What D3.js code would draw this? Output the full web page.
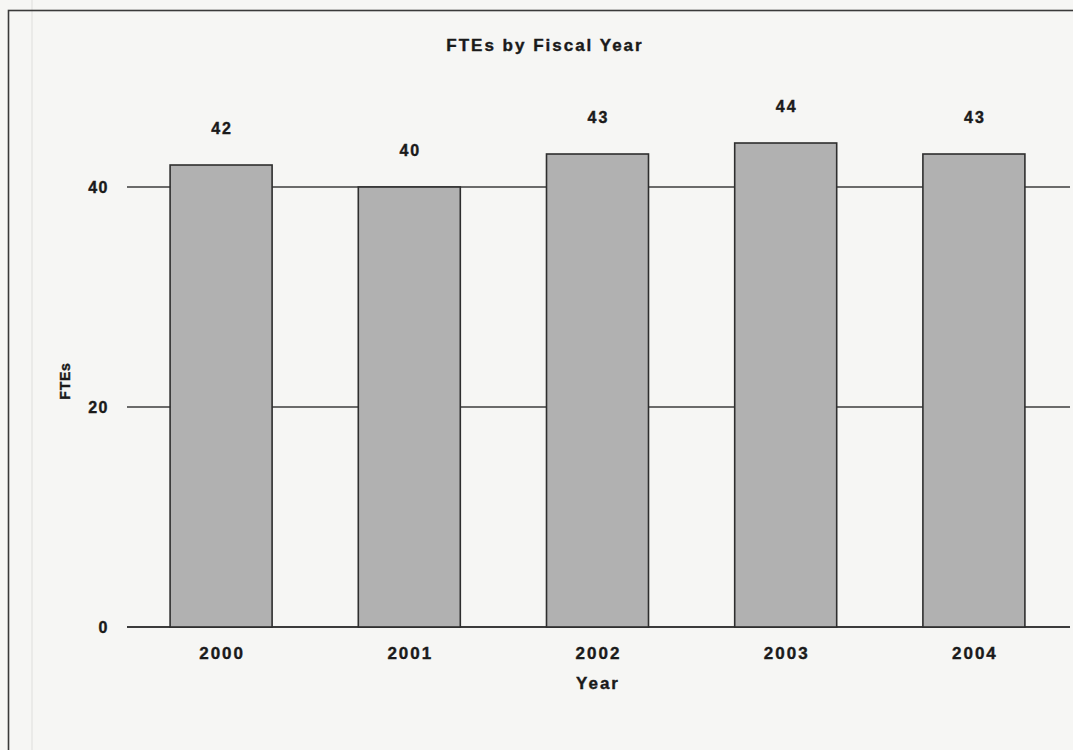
<!DOCTYPE html>
<html>
<head>
<meta charset="utf-8">
<script src="https://cdn.jsdelivr.net/npm/d3@7"></script>
<style>
  html, body { margin: 0; padding: 0; background: #f6f6f4; }
  svg { display: block; }
  text { font-family: "Liberation Sans", Arial, sans-serif; font-weight: bold; fill: #1a1a1a; stroke: #1a1a1a; stroke-width: 0.4; }
</style>
</head>
<body>
<svg id="chart" width="1073" height="750"></svg>
<script>
// FTE counts per fiscal year
const years = ["2000", "2001", "2002", "2003", "2004"];
const ftes = [42, 40, 43, 44, 43];
const yTicks = [0, 20, 40];

const svg = d3.select("#chart");
const W = 1073, H = 750;
const FONT = "Liberation Sans, Arial, sans-serif";

// page background and outer frame
svg.append("rect").attr("width", W).attr("height", H).attr("fill", "#f6f6f4");
svg.append("line").attr("x1", 32).attr("x2", 32).attr("y1", 0).attr("y2", H)
  .attr("stroke", "#e6e6e4").attr("stroke-width", 1.5);
svg.append("rect").attr("x", 8.5).attr("y", 10.5).attr("width", W + 20).attr("height", H + 20)
  .attr("fill", "none").attr("stroke", "#3a3a3a").attr("stroke-width", 1.6);

const plot = { left: 127, right: 1068, top: 60, bottom: 627 };

const x = d3.scaleBand()
  .domain(years)
  .range([plot.left, plot.right])
  .paddingInner(0.458)
  .paddingOuter(0.229);

const y = d3.scaleLinear()
  .domain([0, 40])
  .range([plot.bottom, 187]);

// horizontal grid lines (also the zero baseline)
svg.append("g")
  .selectAll("line")
  .data(yTicks)
  .join("line")
  .attr("x1", plot.left)
  .attr("x2", 1070)
  .attr("y1", d => y(d))
  .attr("y2", d => y(d))
  .attr("stroke", "#3c3c3c")
  .attr("stroke-width", d => d === 0 ? 1.8 : 1.3);

// y axis tick labels
const yAxis = svg.append("g")
  .attr("transform", `translate(${plot.left - 18},0)`)
  .call(d3.axisLeft(y).tickValues(yTicks).tickSize(0).tickPadding(0));
yAxis.select(".domain").remove();
yAxis.selectAll("text")
  .attr("font-size", 16)
  .attr("letter-spacing", 1.5)
  .attr("fill", "#1a1a1a")
  .attr("font-family", FONT)
  .attr("font-weight", "bold");

// bars
svg.append("g")
  .selectAll("rect")
  .data(years)
  .join("rect")
  .attr("x", d => x(d))
  .attr("y", (d, i) => y(ftes[i]))
  .attr("width", x.bandwidth())
  .attr("height", (d, i) => y(0) - y(ftes[i]))
  .attr("fill", "#b1b1b1")
  .attr("stroke", "#2e2e2e")
  .attr("stroke-width", 1.6);

// value labels above bars
svg.append("g")
  .selectAll("text")
  .data(years)
  .join("text")
  .attr("x", d => x(d) + x.bandwidth() / 2 + 1)
  .attr("y", (d, i) => y(ftes[i]) - 31)
  .attr("text-anchor", "middle")
  .attr("font-size", 16)
  .attr("letter-spacing", 2)
  .text((d, i) => ftes[i]);

// x axis tick labels
const xAxis = svg.append("g")
  .attr("transform", `translate(1,${plot.bottom + 20})`)
  .call(d3.axisBottom(x).tickSize(0).tickPadding(0));
xAxis.select(".domain").remove();
xAxis.selectAll("text")
  .attr("font-size", 17)
  .attr("letter-spacing", 2)
  .attr("fill", "#1a1a1a")
  .attr("font-family", FONT)
  .attr("font-weight", "bold");

// title and axis titles
svg.append("text")
  .attr("x", 545).attr("y", 51)
  .attr("text-anchor", "middle")
  .attr("font-size", 17)
  .attr("letter-spacing", 2)
  .text("FTEs by Fiscal Year");

svg.append("text")
  .attr("x", 598).attr("y", 689)
  .attr("text-anchor", "middle")
  .attr("font-size", 17)
  .attr("letter-spacing", 2)
  .text("Year");

svg.append("text")
  .attr("transform", "translate(70,381) rotate(-90)")
  .attr("text-anchor", "middle")
  .attr("font-size", 14)
  .attr("letter-spacing", 0.8)
  .text("FTEs");
</script>
</body>
</html>
